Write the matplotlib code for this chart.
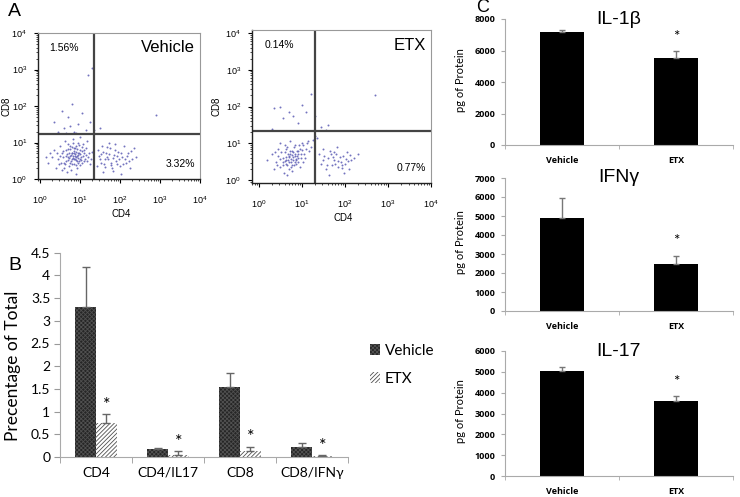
import numpy as np
import matplotlib
matplotlib.use("Agg")
import matplotlib.pyplot as plt
from matplotlib.patches import Patch

plt.rcParams['hatch.linewidth'] = 0.6

W, H = 740, 497

# ---- Panel A: flow cytometry dots (log10 units) ----
veh_x = [0.45, 0.55, 0.6, 0.65, 0.7, 0.72, 0.75, 0.78, 0.8, 0.82, 0.85, 0.86, 0.88, 0.9, 0.92, 0.94,
         0.95, 0.97, 1.0, 1.02, 1.05, 1.07, 1.1, 1.12, 1.15, 1.2, 1.25, 0.5, 0.4, 0.3, 0.35, 0.62,
         0.68, 0.77, 0.83, 0.9, 1.0, 1.18, 0.58, 0.66, 0.73, 0.8, 0.87, 0.93, 0.98, 1.03, 1.08, 0.7,
         0.6, 0.52, 0.2, 0.15, 1.3, 0.76, 0.84, 0.91, 0.96, 0.99, 1.06, 0.64,
         0.5, 0.57, 0.63, 0.67, 0.71, 0.74, 0.79, 0.81, 0.83, 0.86, 0.89, 0.9, 0.93, 0.95, 0.97, 1.0,
         1.01, 1.04, 1.09, 1.11, 1.14, 1.17, 1.22, 0.69, 0.74, 0.78, 0.85, 0.88, 0.92, 0.96, 0.42, 0.48,
         0.25, 0.56, 1.28, 0.82, 0.73, 0.87, 0.9, 0.79,
         1.45, 1.5, 1.55, 1.6, 1.65, 1.7, 1.75, 1.8, 1.85, 1.9, 1.95, 2.0, 2.05, 2.1, 2.15, 2.2,
         2.3, 2.4, 1.58, 1.72, 1.88, 2.02, 2.25, 1.42, 1.68, 1.92, 2.12, 1.78, 2.35, 1.52,
         1.47, 1.53, 1.57, 1.63, 1.67, 1.73, 1.77, 1.82, 1.87, 1.93, 1.97, 2.03, 2.08, 2.18, 2.28, 1.62,
         1.83, 2.22,
         0.35, 0.55, 0.6, 0.7, 0.8, 0.85, 0.95, 1.05, 1.15, 0.45, 0.75, 1.25, 1.2, 1.3, 0.9, 0.65,
         2.9, 1.35, 1.5]
veh_y = [0.55, 0.7, 0.45, 0.8, 0.6, 0.35, 0.9, 0.5, 0.7, 0.62, 0.4, 0.85, 0.55, 0.75, 0.3, 0.65,
         1.0, 0.5, 0.8, 0.6, 0.45, 0.95, 0.7, 0.55, 0.85, 0.6, 0.4, 0.9, 0.3, 0.6, 0.8, 1.05,
         0.2, 0.25, 1.1, 0.15, 1.15, 1.05, 0.6, 0.5, 0.72, 0.55, 0.68, 0.48, 0.72, 0.52, 0.62, 0.95,
         0.3, 0.45, 0.45, 0.6, 0.75, 0.82, 0.78, 0.9, 0.58, 0.38, 0.78, 0.64,
         0.62, 0.78, 0.4, 0.68, 0.52, 0.62, 0.88, 0.42, 0.58, 0.72, 0.38, 0.6, 0.82, 0.7, 0.92, 0.55,
         0.68, 0.88, 0.5, 0.8, 0.65, 0.48, 0.72, 0.82, 0.45, 0.65, 0.55, 0.85, 0.62, 0.45, 0.7, 0.4,
         0.7, 0.25, 0.55, 0.98, 0.58, 0.62, 0.52, 0.72,
         0.8, 0.55, 0.9, 0.4, 0.7, 0.55, 0.85, 0.3, 0.65, 0.5, 0.75, 0.35, 0.6, 0.9, 0.45, 0.7,
         0.55, 0.6, 0.2, 1.0, 0.95, 0.15, 0.3, 0.35, 0.6, 0.62, 0.55, 0.45, 0.85, 0.68,
         0.62, 0.45, 0.75, 0.55, 0.88, 0.68, 0.38, 0.58, 0.8, 0.4, 0.55, 0.72, 0.42, 0.62, 0.78, 0.32,
         0.22, 0.48,
         1.55, 1.85, 1.4, 1.7, 2.05, 1.3, 1.5, 1.8, 1.35, 1.3, 1.45, 1.55, 2.85, 3.05, 1.25, 1.25,
         1.75, 1.35, 1.4]

etx_x = [0.3, 0.4, 0.45, 0.5, 0.55, 0.6, 0.62, 0.65, 0.68, 0.7, 0.72, 0.75, 0.77, 0.8, 0.82, 0.85,
         0.87, 0.9, 0.92, 0.95, 0.98, 1.0, 1.05, 1.1, 1.15, 1.2, 1.25, 0.58, 0.66, 0.78, 0.35, 0.2,
         0.5, 0.72, 0.95, 1.02, 0.62, 0.7, 0.8, 0.88, 0.75, 0.68, 0.85, 0.6, 1.3, 0.45, 0.55, 0.92,
         0.48, 0.52, 0.57, 0.63, 0.66, 0.69, 0.73, 0.76, 0.79, 0.81, 0.84, 0.86, 0.89, 0.91, 0.94, 0.97,
         1.0, 1.03, 1.07, 1.12, 1.17, 0.64, 0.71, 0.74, 0.83, 0.6, 0.42, 0.38, 0.77, 0.87,
         1.4, 1.45, 1.5, 1.55, 1.6, 1.65, 1.7, 1.75, 1.8, 1.85, 1.9, 1.95, 2.0, 2.05, 2.1, 2.15,
         2.2, 2.3, 1.62, 1.82, 1.98, 1.72, 1.92, 2.08, 1.48,
         1.52, 1.58, 1.68, 1.78, 1.88, 1.94, 2.02, 2.12, 1.75, 1.85,
         0.35, 0.5, 0.7, 0.8, 1.0, 1.1, 1.2, 1.3, 0.55, 0.9, 0.3,
         1.45, 1.6, 1.55, 1.35, 2.7]
etx_y = [0.7, 0.5, 0.85, 0.35, 0.6, 0.75, 0.45, 0.9, 0.55, 0.3, 0.7, 0.5, 0.8, 0.62, 0.4, 0.95,
         0.55, 0.72, 0.48, 0.85, 0.6, 1.0, 0.7, 0.85, 1.05, 0.9, 1.1, 0.2, 0.15, 0.25, 0.3, 0.55,
         1.0, 1.05, 0.35, 0.5, 0.62, 0.48, 0.75, 0.66, 0.58, 0.72, 0.5, 0.52, 1.2, 0.65, 0.42, 0.78,
         0.58, 0.75, 0.5, 0.85, 0.4, 0.62, 0.8, 0.42, 0.55, 0.9, 0.65, 0.45, 0.8, 0.6, 0.95, 0.72,
         0.82, 0.95, 0.6, 1.0, 0.8, 0.55, 0.65, 0.35, 0.7, 0.95, 0.4, 0.75, 0.68, 0.58,
         0.7, 0.45, 0.85, 0.3, 0.6, 0.8, 0.4, 0.55, 0.7, 0.35, 0.5, 0.65, 0.45, 0.75, 0.3, 0.55,
         0.6, 0.7, 0.15, 0.9, 0.2, 0.62, 0.42, 0.52, 0.55,
         0.65, 0.42, 0.7, 0.45, 0.62, 0.32, 0.58, 0.68, 0.75, 0.52,
         1.95, 2.0, 1.85, 1.75, 2.05, 1.85, 2.35, 1.75, 1.7, 1.55, 1.4,
         1.45, 1.5, 1.35, 1.15, 2.3]

# ---- Panel B ----
cells = ['CD4', 'CD4/IL17', 'CD8', 'CD8/IFNγ']
veh_pct = [3.3, 0.17, 1.55, 0.23]
veh_err = [0.88, 0.03, 0.3, 0.07]
etx_pct = [0.75, 0.05, 0.14, 0.03]
etx_err = [0.2, 0.08, 0.09, 0.02]

# ---- Panel C ----
groups = ['Vehicle', 'ETX']
cytokines = ['IL-1β', 'IFNγ', 'IL-17']
cyto_vals = [[7180, 5520], [4920, 2470], [5040, 3600]]
cyto_err = [[120, 450], [1030, 430], [190, 250]]
cyto_ymax = [8000, 7000, 6000]
cyto_step = [2000, 1000, 1000]


def px_axes(fig, l, t, r, b):
    return fig.add_axes([l / W, 1 - b / H, (r - l) / W, (b - t) / H])


fig = plt.figure(figsize=(W / 100, H / 100), dpi=100)
fig.patch.set_facecolor('white')

# ---------- A ----------
flow = [
    (38, 33, 200, 179, (-0.05, 4.0), (0.0, 4.0), veh_x, veh_y, 1.35, 1.23,
     '1.56%', '3.32%', 'Vehicle', 6),
    (252, 30, 431, 183, (-0.16, 4.0), (-0.08, 4.08), etx_x, etx_y, 1.3, 1.33,
     '0.14%', '0.77%', 'ETX', 217),
]
for (l, t, r, b, xl, yl, xs, ys, gx, gy, q1, q4, name, ylab_x) in flow:
    ax = px_axes(fig, l, t, r, b)
    ax.scatter(10 ** np.array(xs), 10 ** np.array(ys), s=2.0, color='#6464b8',
               linewidths=0, alpha=0.9)
    ax.set_xscale('log')
    ax.set_yscale('log')
    ax.set_xlim(10 ** xl[0], 10 ** xl[1])
    ax.set_ylim(10 ** yl[0], 10 ** yl[1])
    ax.axvline(10 ** gx, color='#444444', lw=1.6)
    ax.axhline(10 ** gy, color='#444444', lw=1.6)
    for s in ['top', 'right']:
        ax.spines[s].set_color('#999999')
        ax.spines[s].set_linewidth(0.8)
    for s in ['left', 'bottom']:
        ax.spines[s].set_color('#222222')
        ax.spines[s].set_linewidth(1.0)
    ax.set_xticks([1, 10, 100, 1000, 10000])
    ax.set_yticks([1, 10, 100, 1000, 10000])
    ax.tick_params(direction='out', length=3, width=0.8, labelsize=6.5)
    ax.tick_params(axis='x', pad=8)
    ax.tick_params(axis='y', pad=5)
    ax.tick_params(which='minor', direction='out', length=1.5, width=0.5)
    for lab in ax.get_xticklabels() + ax.get_yticklabels():
        lab.set_family('Liberation Sans')
    ax.text(0.07, 0.9, q1, transform=ax.transAxes, fontsize=7.5, family='Liberation Sans',
            va='center')
    ax.text(0.97, 0.1, q4, transform=ax.transAxes, fontsize=7.5, family='Liberation Sans',
            va='center', ha='right')
    ax.text(0.97, 0.9, name, transform=ax.transAxes, fontsize=12, family='Liberation Sans',
            va='center', ha='right')
    fig.text(ylab_x / W, 1 - ((t + b) / 2) / H, 'CD8', rotation=90, fontsize=7,
             family='Liberation Sans', va='center', ha='center')
    fig.text(((l + r) / 2 + 2) / W, 1 - (b + 35) / H, 'CD4', fontsize=7,
             family='Liberation Sans', va='center', ha='center')

# ---------- B ----------
axb = px_axes(fig, 60, 252.7, 348, 457)
x = np.arange(len(cells))
bw = 0.285
axb.bar(x - bw / 2, veh_pct, bw, color='#262626', edgecolor='#505050', hatch='xxxxxxxx',
        linewidth=0, yerr=[np.zeros(4), veh_err], ecolor='#666666', capsize=3,
        error_kw={'elinewidth': 1, 'capthick': 1})
axb.bar(x + bw / 2, etx_pct, bw, color='white', edgecolor='#505050', hatch='////////',
        linewidth=0, yerr=[np.zeros(4), etx_err], ecolor='#666666', capsize=3,
        error_kw={'elinewidth': 1, 'capthick': 1})
for i in range(len(cells)):
    axb.text(x[i] + bw / 2, etx_pct[i] + etx_err[i] + 0.2, '*', ha='center', va='center',
             fontsize=13, family='Lato')
axb.set_xlim(-0.5, 3.5)
axb.set_ylim(0, 4.5)
axb.set_yticks(np.arange(0, 4.51, 0.5))
axb.set_yticklabels(['0', '0.5', '1', '1.5', '2', '2.5', '3', '3.5', '4', '4.5'])
axb.set_xticks(x)
axb.set_xticklabels(cells)
axb.set_xticks(np.arange(-0.5, 3.6, 1), minor=True)
axb.tick_params(axis='x', which='major', length=0, pad=7, labelsize=10)
axb.tick_params(axis='x', which='minor', length=4, color='#999999', direction='out')
axb.tick_params(axis='y', length=4, color='#999999', labelsize=10, pad=3)
for lab in axb.get_xticklabels() + axb.get_yticklabels():
    lab.set_family('Lato')
for s in ['top', 'right']:
    axb.spines[s].set_visible(False)
for s in ['left', 'bottom']:
    axb.spines[s].set_color('#aaaaaa')
fig.text(13 / W, 1 - 366 / H, 'Precentage of Total', rotation=90, fontsize=12.5,
         family='Lato', va='center', ha='center')
handles = [Patch(facecolor='#262626', edgecolor='#505050', hatch='xxxxxxxx', linewidth=0),
           Patch(facecolor='white', edgecolor='#505050', hatch='////////', linewidth=0)]
fig.legend(handles, ['Vehicle', 'ETX'], loc='center left',
           bbox_to_anchor=(356 / W, 1 - 365 / H), frameon=False, handlelength=0.7,
           handleheight=0.7, handletextpad=0.3, labelspacing=0.9,
           prop={'family': 'Lato', 'size': 11})

# ---------- C ----------
c_boxes = [(19, 145), (178, 311), (351, 476)]
for k, (t, b) in enumerate(c_boxes):
    ax = px_axes(fig, 505, t, 733, b)
    xc = np.arange(2)
    ax.bar(xc, cyto_vals[k], 0.38, color='black',
           yerr=[np.zeros(2), cyto_err[k]], ecolor='#777777', capsize=2,
           error_kw={'elinewidth': 1, 'capthick': 1})
    ax.text(1, cyto_vals[k][1] + cyto_err[k][1] + cyto_ymax[k] * 0.11, '*', ha='center',
            va='center', fontsize=11, family='Lato')
    ax.set_xlim(-0.5, 1.5)
    ax.set_ylim(0, cyto_ymax[k])
    ax.set_yticks(np.arange(0, cyto_ymax[k] + 1, cyto_step[k]))
    ax.set_xticks(xc)
    ax.set_xticklabels(groups)
    ax.set_xticks([-0.5, 0.5, 1.5], minor=True)
    ax.tick_params(axis='x', which='major', length=0, pad=8, labelsize=6.5)
    ax.tick_params(axis='x', which='minor', length=3, color='#aaaaaa', direction='out')
    ax.tick_params(axis='y', length=3, color='#aaaaaa', labelsize=6.5, pad=4)
    for lab in ax.get_xticklabels() + ax.get_yticklabels():
        lab.set_family('Open Sans')
        lab.set_fontweight('bold')
    for s in ['top', 'right']:
        ax.spines[s].set_visible(False)
    for s in ['left', 'bottom']:
        ax.spines[s].set_color('#aaaaaa')
    ax.text(0.5, 1.0, cytokines[k], transform=ax.transAxes, ha='center', va='center',
            fontsize=14, family='Liberation Sans')
    fig.text(461 / W, 1 - ((t + b) / 2 - 2) / H, 'pg of Protein', rotation=90, fontsize=8,
             family='Lato', va='center', ha='center')

# panel letters
fig.text(8 / W, 1 - 12 / H, 'A', fontsize=14, family='Liberation Sans', va='center')
fig.text(8 / W, 1 - 266 / H, 'B', fontsize=14, family='Liberation Sans', va='center')
fig.text(476 / W, 1 - 8 / H, 'C', fontsize=13, family='Liberation Sans', va='center')

fig.savefig('out.png', dpi=100)
